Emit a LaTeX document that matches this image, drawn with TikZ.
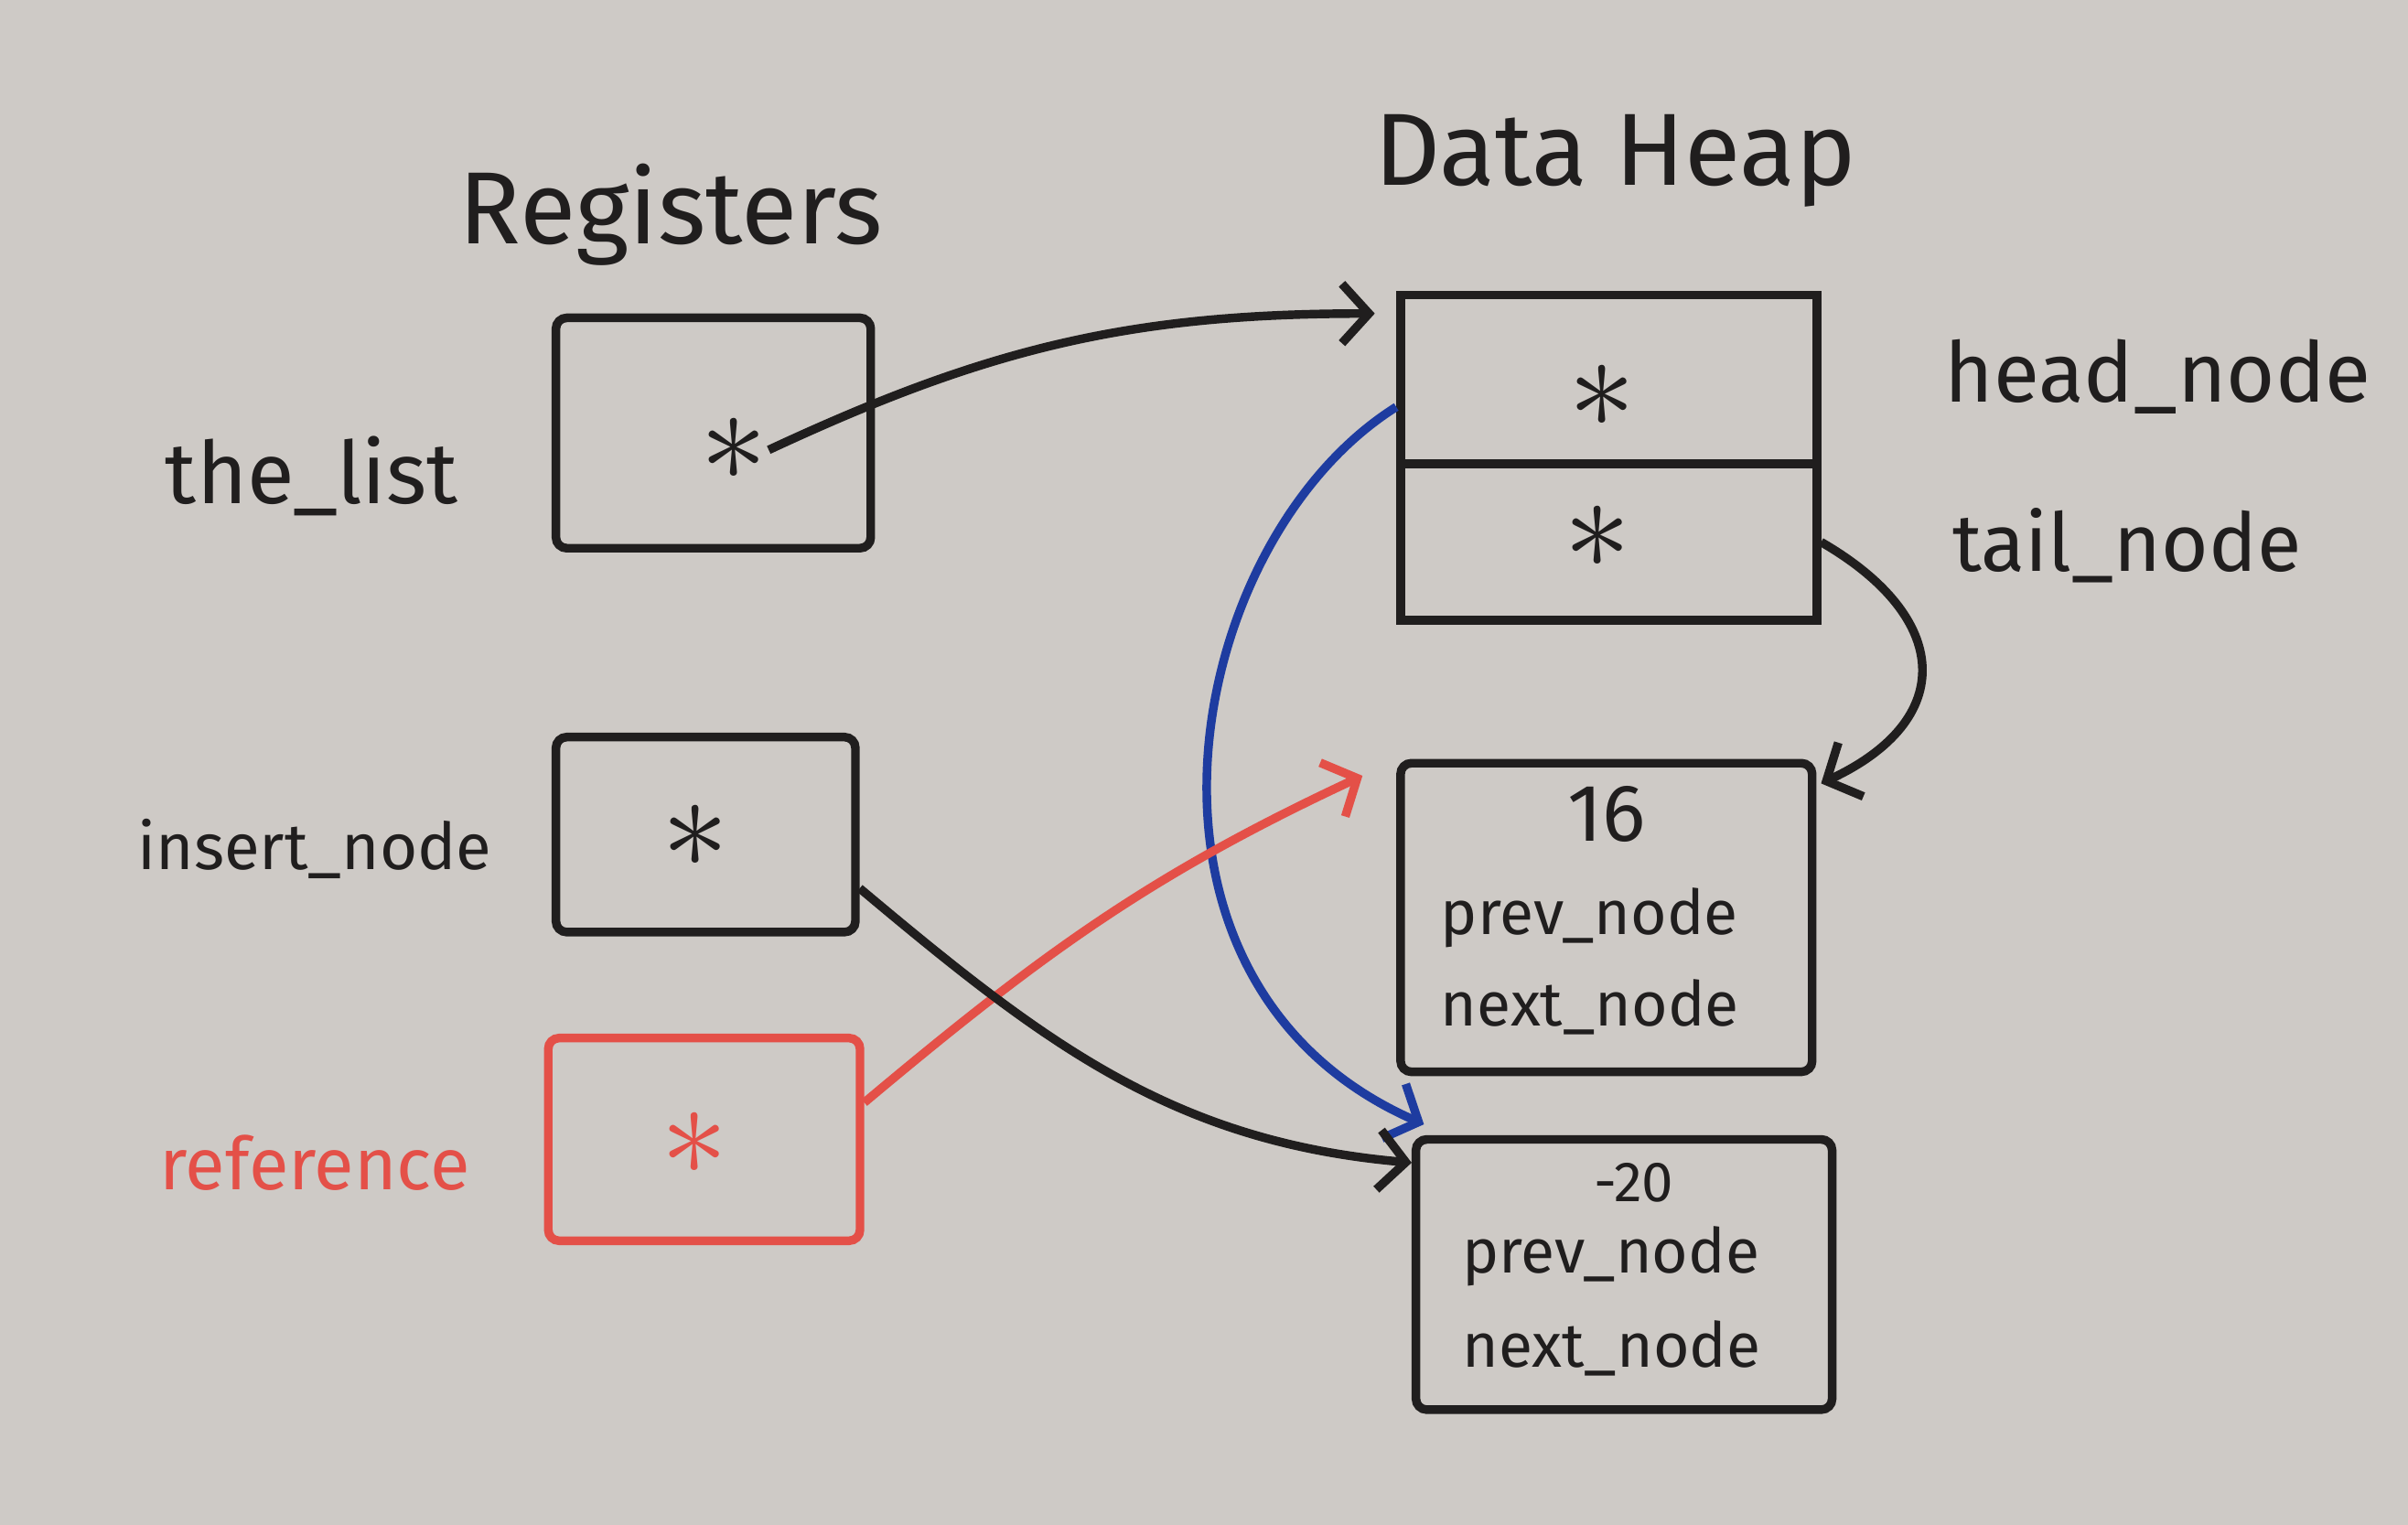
\documentclass[tikz,border=0pt]{standalone}
\usepackage{fontspec}
\setmainfont{Fira Sans}
\usepackage{xcolor}
\usepackage{tikz}
\usetikzlibrary{arrows.meta}
\definecolor{board}{RGB}{206,202,198}
\definecolor{ink}{RGB}{32,30,30}
\definecolor{redink}{RGB}{228,80,72}
\definecolor{blueink}{RGB}{30,60,160}
\tikzset{
  cell/.style   ={draw=ink, line width=1.6pt, rounded corners=2pt, inner sep=0pt},
  title/.style  ={font=\fontsize{19}{19}\selectfont, text=ink, inner sep=1pt},
  lab/.style    ={font=\fontsize{15}{15}\selectfont, text=ink, inner sep=1pt},
  fld/.style    ={font=\fontsize{11.5}{11.5}\selectfont, text=ink, inner sep=1pt, anchor=west},
  star/.style   ={font=\fontsize{28}{28}\selectfont, text=ink, inner sep=0pt},
  ptr/.style    ={draw=ink, line width=1.6pt, -{Straight Barb[length=5pt,width=11pt]}},
}

\begin{document}
\begin{tikzpicture}
  \fill[board] (0,0) rectangle (15.68,9.93);
  \useasboundingbox (0,0) rectangle (15.68,9.93);
  % titles
  \node[title] (regs) at (4.37,8.53) {Registers};
  \node[title] (heap) at (10.52,8.88) {Data Heap};
  % registers
  \node[cell,minimum width=2.05cm,minimum height=1.50cm] (listcell) at (4.645,7.11) {};
  \node[cell,minimum width=1.95cm,minimum height=1.27cm] (inscell) at (4.595,4.495) {};
  \node[cell,draw=redink,minimum width=2.03cm,minimum height=1.32cm] (refcell) at (4.585,2.51) {};
  \node[star] (liststar) at (4.78,7.00) {$\ast$};
  \node[star] (insstar) at (4.53,4.48) {$\ast$};
  \node[star,text=redink] (refstar) at (4.52,2.48) {$\ast$};
  \node[lab,font=\fontsize{16}{16}\selectfont] (listlab) at (2.03,6.83) {the\_list};
  \node[lab,font=\fontsize{12}{12}\selectfont] (inslab) at (2.05,4.40) {insert\_node};
  \node[lab,font=\fontsize{13.5}{13.5}\selectfont,text=redink] (reflab) at (2.05,2.36) {reference};
  % heap
  \node[cell,sharp corners,minimum width=2.71cm,minimum height=1.10cm] (headcell) at (10.475,7.46) {};
  \node[cell,sharp corners,minimum width=2.71cm,minimum height=1.02cm] (tailcell) at (10.475,6.40) {};
  \node[star] (headstar) at (10.43,7.35) {$\ast$};
  \node[star] (tailstar) at (10.40,6.43) {$\ast$};
  \node[lab,font=\fontsize{15.5}{15.5}\selectfont] (headlab) at (14.05,7.48) {head\_node};
  \node[lab] (taillab) at (13.85,6.38) {tail\_node};
  \node[cell,minimum width=2.68cm,minimum height=2.01cm] (cellA) at (10.46,3.955) {};
  \node[lab] (valA) at (10.46,4.63) {16};
  \node[fld] (prevA) at (9.34,3.95) {prev\_node};
  \node[fld] (nextA) at (9.34,3.37) {next\_node};
  \node[cell,minimum width=2.71cm,minimum height=1.76cm] (cellB) at (10.575,1.63) {};
  \node[fld,anchor=center,font=\fontsize{10.5}{10.5}\selectfont] (valB) at (10.64,2.23) {-20};
  \node[fld] (prevB) at (9.48,1.75) {prev\_node};
  \node[fld] (nextB) at (9.48,1.15) {next\_node};
  % pointers
  \draw[ptr] (liststar.east) to[out=25,in=180] ([xshift=-1.4mm,yshift=-1.5mm]headcell.north west);
  \draw[ptr,draw=blueink] ([yshift=-1.8mm]headcell.west) .. controls +(-1.4,-0.88) and +(-2.1,0.92) .. ([xshift=0.8mm,yshift=0.7mm]cellB.north west);
  \draw[ptr,draw=redink] ([yshift=2.4mm]refcell.east) to[out=40,in=205] ([xshift=-2.2mm,yshift=-1.1mm]cellA.north west);
  \draw[ptr] ([yshift=-3.5mm]inscell.east) to[out=-40,in=175] ([yshift=-1.8mm]cellB.north west);
  \draw[ptr] (tailcell.east) to[out=-30,in=25,looseness=1.6] ([xshift=0.3mm,yshift=-1.6mm]cellA.north east);
\end{tikzpicture}
\end{document}
